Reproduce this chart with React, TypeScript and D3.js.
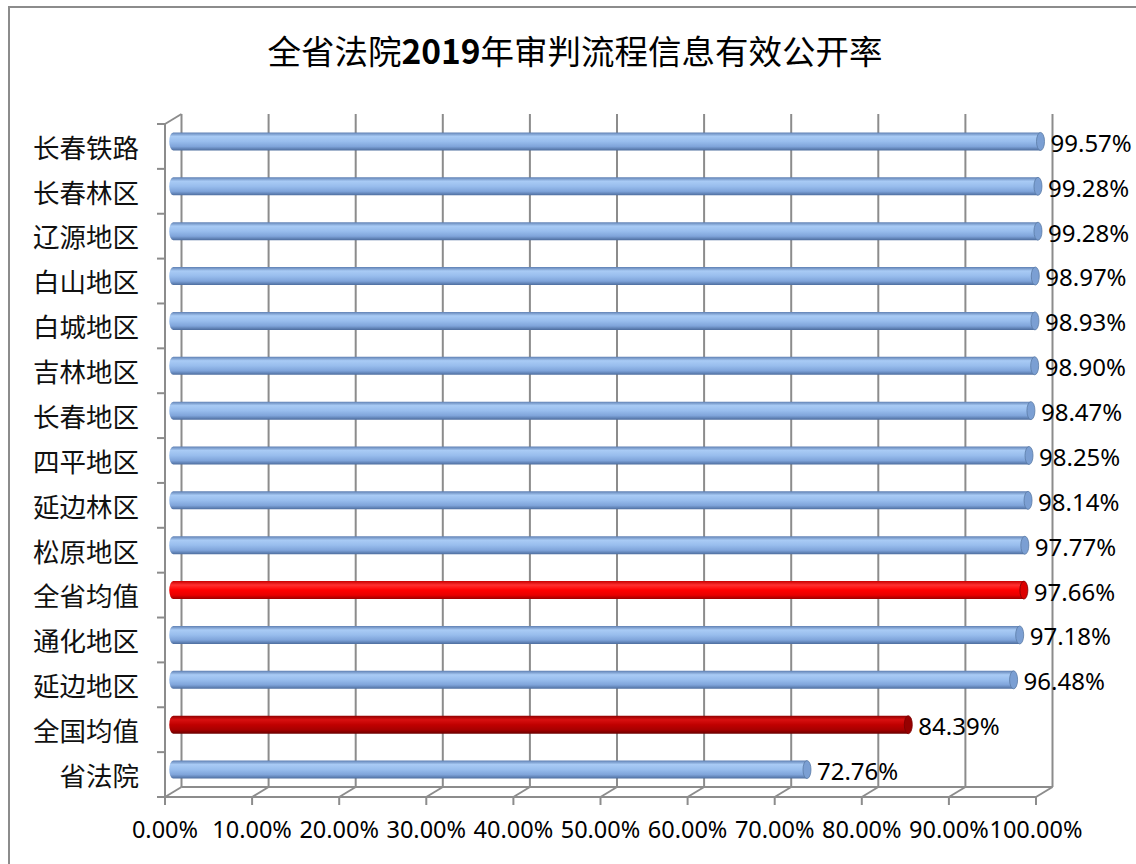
import React, { useEffect, useRef } from 'react';
import * as d3 from 'd3';

// chart data
const categories = [
  '长春铁路', '长春林区', '辽源地区', '白山地区', '白城地区',
  '吉林地区', '长春地区', '四平地区', '延边林区', '松原地区',
  '全省均值', '通化地区', '延边地区', '全国均值', '省法院',
];
const values = [
  99.57, 99.28, 99.28, 98.97, 98.93,
  98.90, 98.47, 98.25, 98.14, 97.77,
  97.66, 97.18, 96.48, 84.39, 72.76,
];
const xTicks = [0, 10, 20, 30, 40, 50, 60, 70, 80, 90, 100];
const titleParts = ['全省法院', '2019', '年审判流程信息有效公开率'];

const W = 1136;
const H = 864;

const App: React.FC = () => {
  const ref = useRef<SVGSVGElement | null>(null);

  useEffect(() => {
    const svg = d3.select(ref.current);
    svg.selectAll('*').remove();

    const numFont = "'Noto Sans', 'Open Sans', sans-serif";
    const cjkFont = "'Noto Sans CJK SC', sans-serif";
    const grid = '#8c8c8c';

    // depth offset of the 3D box
    const dx = 16.5;
    const dy = -10;

    const x = d3.scaleLinear().domain([0, 100]).range([165, 1036]);
    const y = d3.scaleBand<string>().domain(categories).range([124, 797]);
    const bw = y.bandwidth();

    const defs = svg.append('defs');
    const grads: Record<string, string[]> = {
      blue: ['#5f80b3', '#a9cbf5', '#98bded', '#7fa4da', '#4d6d9e'],
      red: ['#c80000', '#ff3030', '#ff0000', '#e80000', '#9a0000'],
      dark: ['#8e0000', '#d81010', '#c00000', '#a80000', '#6a0000'],
    };
    Object.entries(grads).forEach(([id, cols]) => {
      const g = defs.append('linearGradient').attr('id', 'g-' + id)
        .attr('x1', 0).attr('y1', 0).attr('x2', 0).attr('y2', 1);
      [0, 0.22, 0.5, 0.78, 1].forEach((o, i) => {
        g.append('stop').attr('offset', o).attr('stop-color', cols[i]);
      });
    });
    const capColor: Record<string, string> = { blue: '#7b9fd3', red: '#dc0000', dark: '#960000' };

    // frame
    svg.append('rect')
      .attr('x', 9).attr('y', 7).attr('width', 1200).attr('height', 900)
      .attr('fill', '#fff').attr('stroke', '#8c8c8c').attr('stroke-width', 2);

    // title
    const title = svg.append('text')
      .attr('x', 575).attr('y', 64)
      .attr('text-anchor', 'middle')
      .attr('font-family', cjkFont)
      .attr('font-size', 33.5)
      .attr('fill', '#000');
    titleParts.forEach((t, i) => {
      title.append('tspan').text(t).attr('font-weight', i === 1 ? 'bold' : 'normal');
    });

    const g = svg.append('g');
    const y0 = y.range()[0];
    const y1 = y.range()[1];

    // back wall gridlines
    xTicks.forEach(t => {
      g.append('line')
        .attr('x1', x(t) + dx).attr('x2', x(t) + dx)
        .attr('y1', y0 + dy).attr('y2', y1 + dy)
        .attr('stroke', grid).attr('stroke-width', 2);
      // floor diagonals
      g.append('line')
        .attr('x1', x(t)).attr('y1', y1)
        .attr('x2', x(t) + dx).attr('y2', y1 + dy)
        .attr('stroke', grid).attr('stroke-width', 2);
      // x ticks
      g.append('line')
        .attr('x1', x(t)).attr('x2', x(t))
        .attr('y1', y1).attr('y2', y1 + 8)
        .attr('stroke', grid).attr('stroke-width', 2);
      g.append('text')
        .attr('x', x(t)).attr('y', 838)
        .attr('text-anchor', 'middle')
        .attr('font-family', numFont).attr('font-size', 23.5)
        .attr('fill', '#000')
        .text(t.toFixed(2) + '%');
    });

    // floor back and front edges
    g.append('line')
      .attr('x1', x(0) + dx).attr('x2', x(100) + dx)
      .attr('y1', y1 + dy).attr('y2', y1 + dy)
      .attr('stroke', grid).attr('stroke-width', 2);
    g.append('line')
      .attr('x1', x(0)).attr('x2', x(100))
      .attr('y1', y1).attr('y2', y1)
      .attr('stroke', grid).attr('stroke-width', 2);

    // side wall: front axis + top diagonal
    g.append('line')
      .attr('x1', x(0)).attr('x2', x(0))
      .attr('y1', y0).attr('y2', y1)
      .attr('stroke', grid).attr('stroke-width', 2);
    g.append('line')
      .attr('x1', x(0)).attr('y1', y0)
      .attr('x2', x(0) + dx).attr('y2', y0 + dy)
      .attr('stroke', grid).attr('stroke-width', 2);

    // y ticks at band edges
    d3.range(categories.length + 1).forEach(k => {
      const yy = y0 + k * bw;
      g.append('line')
        .attr('x1', x(0) - 8).attr('x2', x(0))
        .attr('y1', yy).attr('y2', yy)
        .attr('stroke', grid).attr('stroke-width', 2);
    });

    // category labels
    categories.forEach(c => {
      g.append('text')
        .attr('x', 139).attr('y', (y(c) ?? 0) + bw / 2 + 2)
        .attr('dy', '0.35em')
        .attr('text-anchor', 'end')
        .attr('font-family', cjkFont).attr('font-size', 26.5)
        .attr('fill', '#111')
        .text(c);
    });

    // cylinder bars in the mid-depth plane
    const r = 9;
    const rx = 4;
    categories.forEach((c, i) => {
      const v = values[i];
      const kind = c === '全省均值' ? 'red' : c === '全国均值' ? 'dark' : 'blue';
      const cy = (y(c) ?? 0) + bw / 2 + dy / 2;
      const xa = x(0) + dx / 2;
      const xb = x(v) + dx / 2;
      const path = `M${xb},${cy - r} L${xa},${cy - r} A${rx},${r} 0 0 0 ${xa},${cy + r} L${xb},${cy + r} Z`;
      g.append('path')
        .attr('d', path)
        .attr('fill', `url(#g-${kind})`);
      g.append('ellipse')
        .attr('cx', xb).attr('cy', cy)
        .attr('rx', rx).attr('ry', r)
        .attr('fill', capColor[kind])
        .attr('stroke', kind === 'blue' ? '#5a7ba6' : '#7a0000')
        .attr('stroke-width', 0.8);
      g.append('text')
        .attr('x', xb + rx + 6).attr('y', cy + 2)
        .attr('dy', '0.35em')
        .attr('font-family', numFont).attr('font-size', 24)
        .attr('fill', '#000')
        .text(v.toFixed(2) + '%');
    });
  }, []);

  return (
    <div style={{ position: 'absolute', left: 0, top: 0 }}>
      <svg ref={ref} width={W} height={H} style={{ display: 'block' }}></svg>
    </div>
  );
};

export default App;
